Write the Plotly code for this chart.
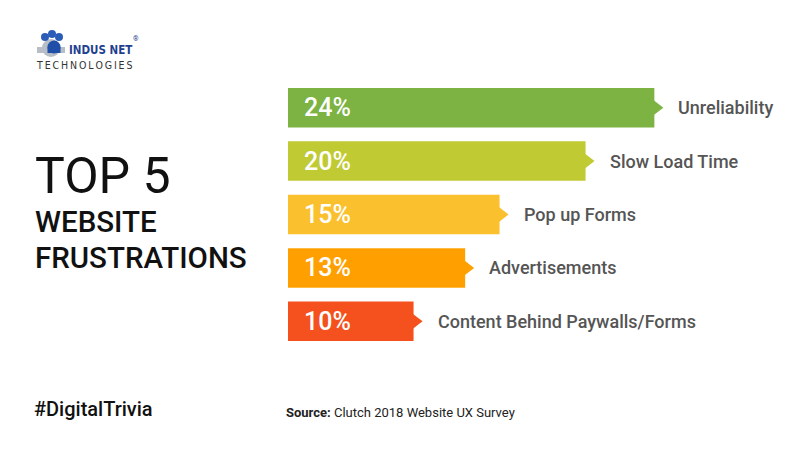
import plotly.graph_objects as go

# ---- data ----
categories = ["Unreliability", "Slow Load Time", "Pop up Forms", "Advertisements",
              "Content Behind Paywalls/Forms"]
values = [24, 20, 15, 13, 10]
bar_colors = ["#7CB342", "#C0CA33", "#FBC02D", "#FFA000", "#F4511E"]
pct_labels = [f"{v}%" for v in values]

W, H = 800, 450
ML, MR, MT, MB = 288, 0, 81, 102
PW, PH = W - ML - MR, H - MT - MB


def px(x):
    return (x - ML) / PW


def py(y):
    return (H - MB - y) / PH


fig = go.Figure()
fig.add_trace(go.Bar(
    x=values, y=categories, orientation="h",
    marker=dict(color=bar_colors, line=dict(width=0)),
    hoverinfo="skip", showlegend=False,
))
fig.add_trace(go.Scatter(
    x=values, y=categories, mode="markers",
    marker=dict(symbol="triangle-right", size=18, color=bar_colors, line=dict(width=0)),
    cliponaxis=False, hoverinfo="skip", showlegend=False,
))

ann = []
for c, v, t in zip(categories, values, pct_labels):
    ann.append(dict(x=0, xref="paper", y=c, yref="y", text=t, showarrow=False,
                    xanchor="left", xshift=14,
                    font=dict(family="Roboto", size=25, color="white", weight=500)))
    ann.append(dict(x=v, xref="x", y=c, yref="y", text=c, showarrow=False,
                    xanchor="left", xshift=22,
                    font=dict(family="Roboto", size=18, color="#555555", weight=500)))

# left titles
ann += [
    dict(x=px(33), y=py(176), xref="paper", yref="paper", text="TOP 5", showarrow=False,
         xanchor="left", yanchor="middle", font=dict(family="Roboto", size=50, color="#111111")),
    dict(x=px(33), y=py(222), xref="paper", yref="paper", text="WEBSITE", showarrow=False,
         xanchor="left", yanchor="middle",
         font=dict(family="Roboto", size=29.5, color="#111111", weight=500)),
    dict(x=px(33), y=py(258), xref="paper", yref="paper", text="FRUSTRATIONS", showarrow=False,
         xanchor="left", yanchor="middle",
         font=dict(family="Roboto", size=29.5, color="#111111", weight=500)),
    dict(x=px(32), y=py(409), xref="paper", yref="paper", text="#DigitalTrivia", showarrow=False,
         xanchor="left", yanchor="middle",
         font=dict(family="Roboto", size=20, color="#111111", weight=500)),
    dict(x=px(284), y=py(412), xref="paper", yref="paper",
         text="<b>Source:</b> Clutch 2018 Website UX Survey", showarrow=False,
         xanchor="left", yanchor="middle",
         font=dict(family="Roboto", size=13, color="#222222")),
    # logo text
    dict(x=px(67), y=py(50), xref="paper", yref="paper", text="INDUS NET", showarrow=False,
         xanchor="left", yanchor="middle",
         font=dict(family="DejaVu Sans Condensed, DejaVu Sans", size=11.5,
                   color="#1F3F8F", weight=700)),
    dict(x=px(131), y=py(39), xref="paper", yref="paper", text="®", showarrow=False,
         xanchor="left", yanchor="middle",
         font=dict(family="Roboto", size=7, color="#1F3F8F")),
    dict(x=px(34), y=py(65), xref="paper", yref="paper",
         text="\u2009".join("TECHNOLOGIES"), showarrow=False,
         xanchor="left", yanchor="middle",
         font=dict(family="DejaVu Sans Condensed, DejaVu Sans", size=10.5,
                   color="#333333")),
]

shapes = []


def circ(cx, cy, r, color):
    return dict(type="circle", xref="paper", yref="paper",
                x0=px(cx - r), x1=px(cx + r), y0=py(cy + r), y1=py(cy - r),
                fillcolor=color, line=dict(width=0), layer="above")


shapes += [
    dict(type="rect", xref="paper", yref="paper", x0=px(37), x1=px(65), y0=py(53), y1=py(47),
         fillcolor="#B8BEC6", line=dict(width=0), layer="above"),
    circ(51, 48, 9, "#B8BEC6"),
    circ(54, 47, 6.5, "#1F4FA8"),
    dict(type="rect", xref="paper", yref="paper", x0=px(47.5), x1=px(60.5), y0=py(53), y1=py(47),
         fillcolor="#1F4FA8", line=dict(width=0), layer="above"),
    circ(45, 37, 4, "#2B5DB8"),
    circ(52, 34, 4, "#2B5DB8"),
    circ(59, 37, 4, "#2B5DB8"),
]

fig.update_layout(
    width=W, height=H,
    margin=dict(l=ML, r=MR, t=MT, b=MB, pad=0),
    paper_bgcolor="white", plot_bgcolor="white",
    bargap=0.26,
    xaxis=dict(range=[2.7, 2.7 + PW / 17.2], visible=False, fixedrange=True),
    yaxis=dict(autorange="reversed", visible=False, fixedrange=True),
    annotations=ann, shapes=shapes,
    font=dict(family="Roboto"),
)

fig.write_html("out.html", config=dict(displayModeBar=False))
